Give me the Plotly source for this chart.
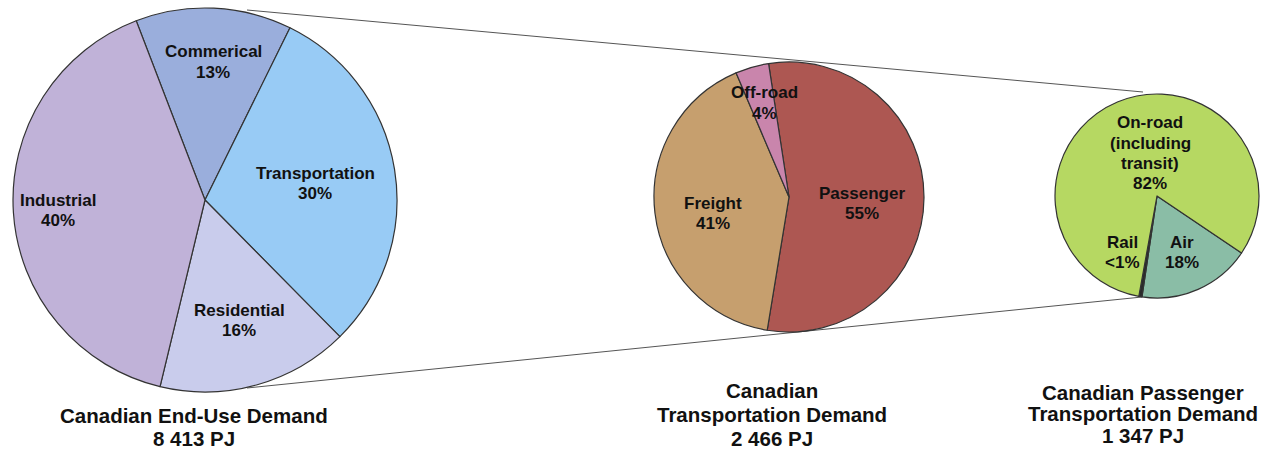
import plotly.graph_objects as go

W, H = 1267, 452

# ---- data ----
enduse_labels = ["Commerical", "Transportation", "Residential", "Industrial"]
enduse_values = [13, 30, 16, 40]
enduse_text = ["13%", "30%", "16%", "40%"]

transport_labels = ["Passenger", "Freight", "Off-road"]
transport_values = [55, 41, 4]
transport_text = ["55%", "41%", "4%"]

passenger_labels = ["Air", "Rail", "On-road<br>(including<br>transit)"]
passenger_values = [18, 0.5, 82]
passenger_text = ["18%", "<1%", "82%"]

titles = [
    ["Canadian End-Use Demand", "8 413 PJ"],
    ["Canadian", "Transportation Demand", "2 466 PJ"],
    ["Canadian Passenger", "Transportation Demand", "1 347 PJ"],
]

# ---- styling / layout ----
enduse_colors = ["#9AAEDC", "#98CBF5", "#C9CCEC", "#C0B2D8"]
transport_colors = ["#AD5752", "#C69F6E", "#C985AC"]
passenger_colors = ["#8ABDA6", "#2A2A2A", "#B6D862"]

FONT = "Liberation Sans, Arial, sans-serif"


def px(x):
    return x / W


def py(y):
    return 1 - y / H


def domain(cx, cy, r):
    return dict(x=[px(cx - r), px(cx + r)], y=[py(cy + r), py(cy - r)])


fig = go.Figure()

pies = [
    (enduse_labels, enduse_values, enduse_colors, (205, 200, 192), -21),
    (transport_labels, transport_values, transport_colors, (789, 197, 135), -8.7),
    (passenger_labels, passenger_values, passenger_colors, (1157, 196, 102), 124),
]

for labels, values, colors, (cx, cy, r), rot in pies:
    fig.add_trace(go.Pie(
        labels=labels, values=values, sort=False, direction="clockwise",
        rotation=rot, textinfo="none", hoverinfo="label+percent",
        marker=dict(colors=colors, line=dict(color="#333333", width=1.2)),
        domain=domain(cx, cy, r), showlegend=False,
    ))

# connecting lines
shapes = [
    dict(type="line", xref="paper", yref="paper", x0=px(247), y0=py(10), x1=px(1143), y1=py(92),
         line=dict(color="#555555", width=1), layer="below"),
    dict(type="line", xref="paper", yref="paper", x0=px(247), y0=py(388), x1=px(1142), y1=py(297),
         line=dict(color="#555555", width=1), layer="below"),
]

# slice label positions (pixel coordinates of first-line centre)
label_pos = {
    "Commerical": (213, 52),
    "Transportation": (315, 173),
    "Residential": (239, 310),
    "Industrial": (58, 200),
    "Passenger": (862, 193),
    "Freight": (713, 203),
    "Off-road": (764, 93),
    "Air": (1182, 242),
    "Rail": (1122, 242),
    "On-road<br>(including<br>transit)": (1150, 123),
}
LABEL_STEP = 20

annotations = []


def add_lines(lines, x, y0, step, size):
    for i, ln in enumerate(lines):
        annotations.append(dict(
            x=px(x), y=py(y0 + i * step), xref="paper", yref="paper", showarrow=False,
            text=f"<b>{ln}</b>", align="center",
            font=dict(family=FONT, size=size, color="#111111"),
            xanchor="center", yanchor="middle",
        ))


for labs, texts in [(enduse_labels, enduse_text), (transport_labels, transport_text),
                    (passenger_labels, passenger_text)]:
    for lab, t in zip(labs, texts):
        x, y = label_pos[lab]
        add_lines(lab.split("<br>") + [t], x, y, LABEL_STEP, 17)

title_pos = [(194, 415, 23), (772, 390, 24), (1143, 392, 21.5)]
for t, (x, y, step) in zip(titles, title_pos):
    add_lines(t, x, y, step, 20.5)

fig.update_layout(
    width=W, height=H, autosize=False,
    margin=dict(l=0, r=0, t=0, b=0),
    paper_bgcolor="white", plot_bgcolor="white",
    shapes=shapes, annotations=annotations,
)

fig.write_html("out.html", config={"displayModeBar": False},
               post_script="document.body.style.margin='0';")
